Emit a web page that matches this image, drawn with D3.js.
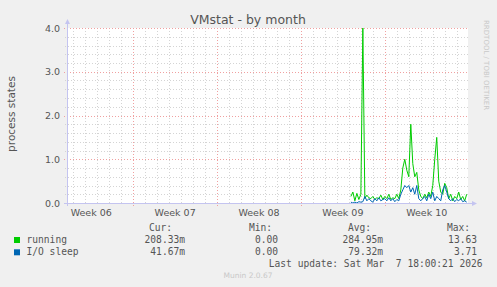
<!DOCTYPE html>
<html><head><meta charset="utf-8">
<script src="https://cdn.jsdelivr.net/npm/d3@7"></script>
<style>html,body{margin:0;padding:0;background:#f0f0f0;}svg{display:block;}</style>
</head><body>
<script>
// ---- data ----
const title = "VMstat - by month";
const yLabel = "process states";
const weekLabels = ["Week 06", "Week 07", "Week 08", "Week 09", "Week 10"];
const weekLabelDates = ["2026-02-05T12:00Z", "2026-02-12T12:00Z", "2026-02-19T12:00Z", "2026-02-26T12:00Z", "2026-03-05T12:00Z"];
const seriesStart = "2026-02-27T04:00Z";
const stepHours = 4;
const running = [0.15,0.25,0.05,0.22,0.08,0.2,4.0,0.1,0.18,0.12,0.1,0.15,0.08,0.12,0.1,0.18,0.08,0.15,0.1,0.2,0.08,0.12,0.1,0.2,0.1,0.3,0.8,1.0,0.75,0.6,1.8,0.9,0.6,0.7,0.3,0.15,0.1,0.2,0.12,0.25,0.15,0.4,1.0,1.5,0.5,0.25,0.2,0.45,0.35,0.1,0.2,0.05,0.15,0.1,0.25,0.08,0.15,0.05,0.2];
const ioSleep = [0.02,0.0,0.02,0.0,0.03,0.02,0.03,0.15,0.05,0.1,0.05,0.02,0.1,0.05,0.12,0.05,0.08,0.1,0.05,0.12,0.05,0.1,0.03,0.08,0.05,0.2,0.3,0.4,0.35,0.4,0.25,0.35,0.2,0.4,0.1,0.05,0.1,0.15,0.05,0.2,0.1,0.25,0.05,0.15,0.1,0.05,0.3,0.4,0.25,0.1,0.05,0.1,0.03,0.08,0.05,0.1,0.03,0.05,0.02];
const seriesNames = ["running", "I/O sleep"];
const seriesColors = ["#00cc00", "#0066b3"];
const legendHeaders = ["Cur:", "Min:", "Avg:", "Max:"];
const legendRows = [["208.33m", "0.00", "284.95m", "13.63"], ["41.67m", "0.00", "79.32m", "3.71"]];
const yTicks = [0, 1, 2, 3, 4];
const lastUpdate = "Last update: Sat Mar  7 18:00:21 2026";
const footer = "Munin 2.0.67";
const sideText = "RRDTOOL / TOBI OETIKER";
const xStart = "2026-02-03T11:24Z", xEnd = "2026-03-08T22:36Z";

// ---- drawing ----
const W = 497, H = 287;
const L = 67, R = 468, T = 28, B = 203;
const svg = d3.select("body").append("svg").attr("width", W).attr("height", H);
svg.append("rect").attr("width", W).attr("height", H).attr("fill", "#f0f0f0");
svg.append("rect").attr("x", L).attr("y", T).attr("width", R - L).attr("height", B - T).attr("fill", "#ffffff");

const x = d3.scaleUtc().domain([new Date(xStart), new Date(xEnd)]).range([L, R]);
const y = d3.scaleLinear().domain([0, 4]).range([B, T]);

const grid = svg.append("g").attr("shape-rendering", "crispEdges");
// minor vertical (days)
const days = d3.utcDay.range(x.domain()[0], x.domain()[1]);
grid.selectAll(".vd").data(days.filter(d => d.getUTCDay() !== 1)).enter().append("line")
  .attr("x1", d => Math.round(x(d)) + 0.5).attr("x2", d => Math.round(x(d)) + 0.5)
  .attr("y1", T).attr("y2", B + 2).attr("stroke", "#d4d4d4").attr("stroke-dasharray", "1,2");
// minor horizontal
const yMinor = d3.range(0, 4.01, 0.2).filter(v => Math.abs(v - Math.round(v)) > 1e-6);
grid.selectAll(".hm").data(yMinor).enter().append("line")
  .attr("x1", L - 2).attr("x2", R).attr("y1", d => Math.round(y(d)) + 0.5).attr("y2", d => Math.round(y(d)) + 0.5)
  .attr("stroke", "#d4d4d4").attr("stroke-dasharray", "1,2");
// major vertical (weeks)
const weeks = d3.utcMonday.range(x.domain()[0], x.domain()[1]);
grid.selectAll(".vw").data(weeks).enter().append("line")
  .attr("x1", d => Math.round(x(d)) + 0.5).attr("x2", d => Math.round(x(d)) + 0.5)
  .attr("y1", T).attr("y2", B + 3).attr("stroke", "#f0a0a0").attr("stroke-dasharray", "1,2");
// major horizontal
grid.selectAll(".hM").data(yTicks).enter().append("line")
  .attr("x1", L - 3).attr("x2", R).attr("y1", d => Math.round(y(d)) + 0.5).attr("y2", d => Math.round(y(d)) + 0.5)
  .attr("stroke", "#f0a0a0").attr("stroke-dasharray", "1,2");

// data lines
svg.append("clipPath").attr("id", "clip").append("rect").attr("x", L).attr("y", T - 1).attr("width", R - L).attr("height", B - T + 1);
const t0 = new Date(seriesStart).getTime();
const tAt = i => new Date(t0 + i * stepHours * 3600e3);
const line = d3.line().x((d, i) => x(tAt(i))).y(d => y(d));
[running, ioSleep].forEach((s, k) => {
  svg.append("path").datum(s).attr("d", line).attr("fill", "none")
    .attr("stroke", seriesColors[k]).attr("stroke-width", 1).attr("clip-path", "url(#clip)");
});

// axes
const axisCol = "#c4c4f0";
svg.append("line").attr("x1", L + 0.5).attr("x2", L + 0.5).attr("y1", B + 3).attr("y2", T - 5).attr("stroke", axisCol).attr("shape-rendering", "crispEdges");
svg.append("line").attr("x1", L - 3).attr("x2", R + 4).attr("y1", B + 0.5).attr("y2", B + 0.5).attr("stroke", axisCol).attr("shape-rendering", "crispEdges");
svg.append("path").attr("d", `M${L - 2},${T - 4} L${L + 3},${T - 4} L${L + 0.5},${T - 9} Z`).attr("fill", axisCol);
svg.append("path").attr("d", `M${R + 4},${B - 2} L${R + 4},${B + 3} L${R + 9},${B + 0.5} Z`).attr("fill", axisCol);

const font = "'DejaVu Sans', sans-serif";
const mono = "'DejaVu Sans Mono', monospace";
const txt = "#555555";

// y tick labels
svg.selectAll(".yt").data(yTicks).enter().append("text")
  .attr("x", 60).attr("y", d => y(d) + 3.5).attr("text-anchor", "end")
  .attr("font-family", font).attr("font-size", 9.5).attr("fill", txt)
  .text(d => d.toFixed(1));
// x labels
svg.selectAll(".xt").data(weekLabels).enter().append("text")
  .attr("x", (d, i) => x(new Date(weekLabelDates[i]))).attr("y", 216).attr("text-anchor", "middle")
  .attr("font-family", font).attr("font-size", 9.5).attr("fill", txt).text(d => d);

// title
svg.append("text").attr("x", 248).attr("y", 24).attr("text-anchor", "middle")
  .attr("font-family", font).attr("font-size", 12.5).attr("fill", txt).text(title);
// y label
svg.append("text").attr("transform", "translate(15,114) rotate(-90)").attr("text-anchor", "middle")
  .attr("font-family", font).attr("font-size", 10.5).attr("fill", txt).text(yLabel);
// side text
svg.append("text").attr("transform", "translate(484,20) rotate(90)").attr("text-anchor", "start")
  .attr("font-family", font).attr("font-size", 7).attr("fill", "#c8c8c8").text(sideText);

// legend
const colRight = [172, 272, 371, 470];
const valRight = [185, 278, 383, 477];
svg.selectAll(".lh").data(legendHeaders).enter().append("text")
  .attr("x", (d, i) => colRight[i]).attr("y", 231).attr("text-anchor", "end")
  .attr("font-family", mono).attr("font-size", 9.6).attr("fill", txt).attr("xml:space", "preserve").text(d => d);
legendRows.forEach((row, r) => {
  const yy = 243 + r * 12.3;
  svg.append("rect").attr("x", 14).attr("y", yy - 6).attr("width", 6).attr("height", 6).attr("fill", seriesColors[r]);
  svg.append("text").attr("x", 26.5).attr("y", yy).attr("font-family", mono).attr("font-size", 9.6).attr("fill", txt).text(seriesNames[r]);
  row.forEach((v, c) => {
    svg.append("text").attr("x", valRight[c]).attr("y", yy).attr("text-anchor", "end")
      .attr("font-family", mono).attr("font-size", 9.6).attr("fill", txt).text(v);
  });
});
svg.append("text").attr("x", 482.5).attr("y", 267).attr("text-anchor", "end")
  .attr("font-family", mono).attr("font-size", 9.6).attr("fill", txt).attr("xml:space", "preserve").style("white-space", "pre").text(lastUpdate);
svg.append("text").attr("x", 248).attr("y", 278).attr("text-anchor", "middle")
  .attr("font-family", font).attr("font-size", 7.5).attr("fill", "#c8c8c8").text(footer);
</script>
</body></html>
